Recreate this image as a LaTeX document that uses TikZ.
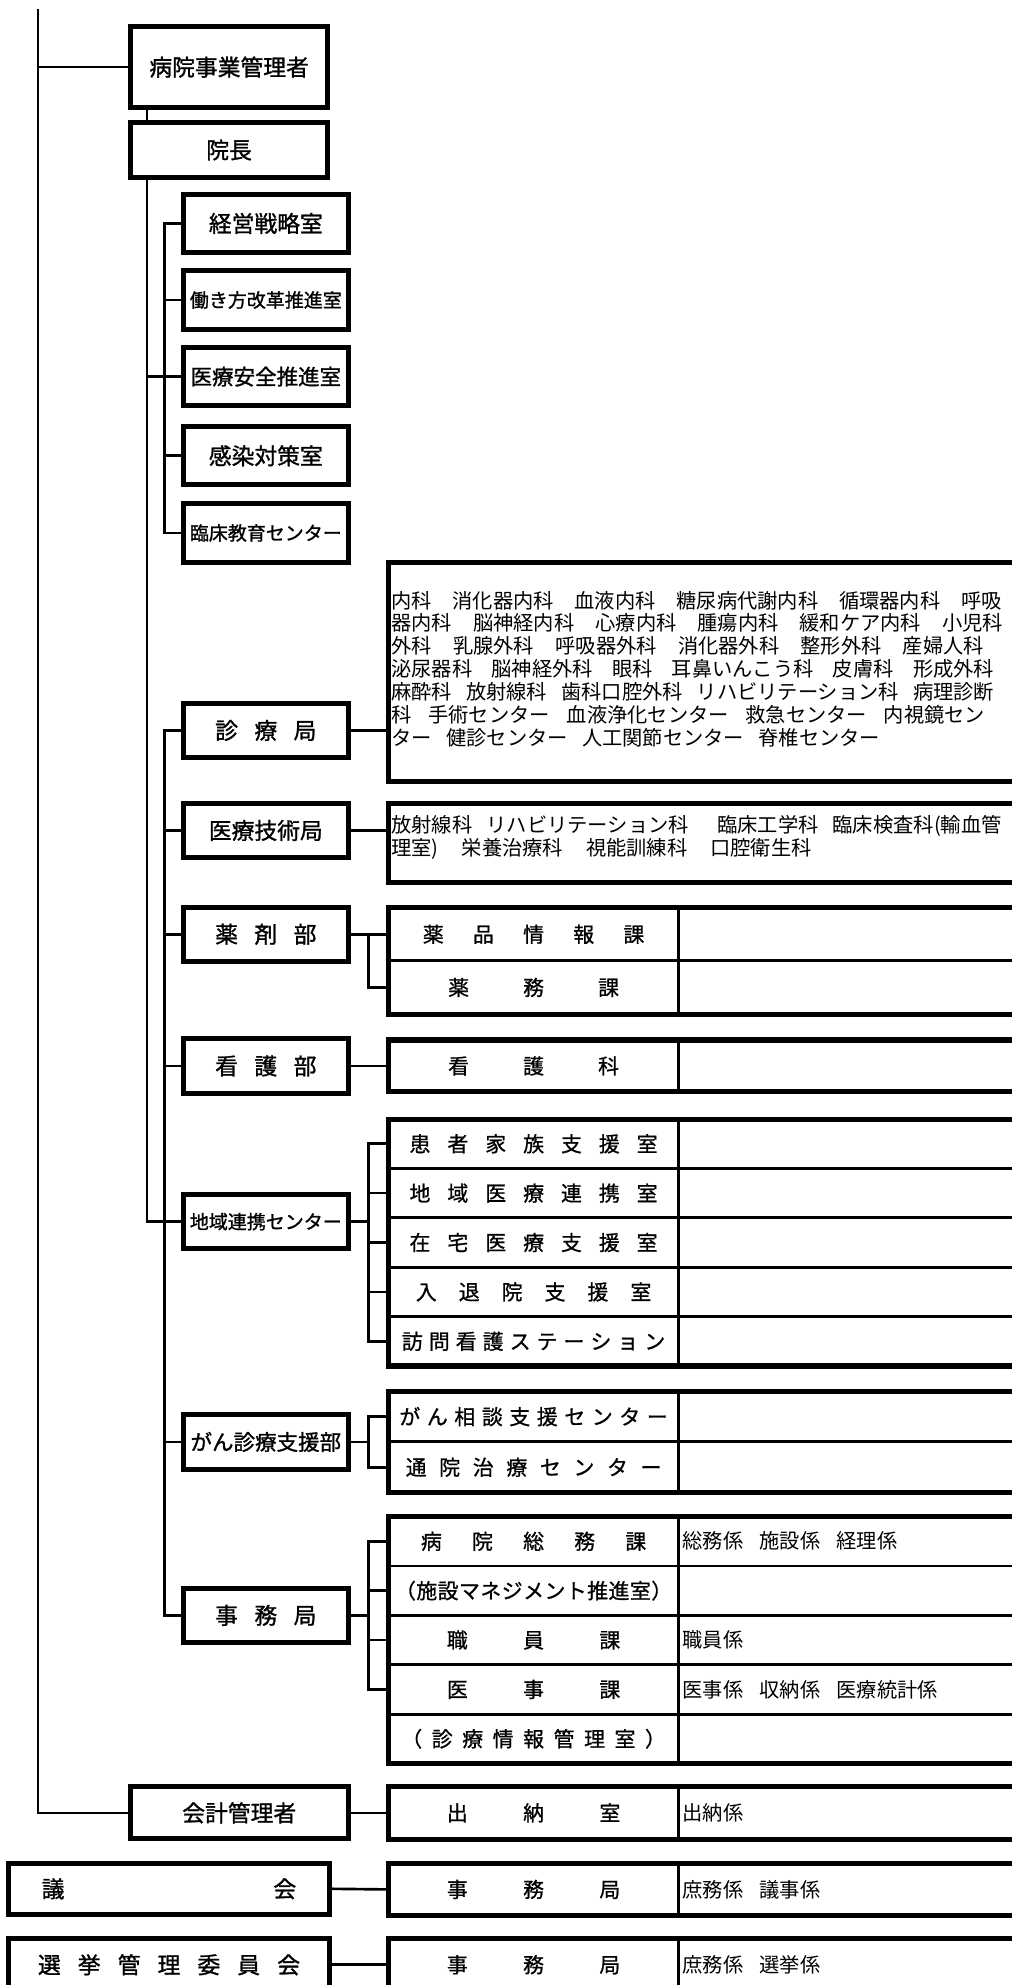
\documentclass[tikz,border=0pt]{standalone}
\usepackage{fontspec}
\setmainfont{Noto Sans CJK JP}
\newfontfamily\jpb{Noto Sans CJK JP}[FakeBold=1.2]
\newfontfamily\jpc{Noto Sans CJK JP}[FakeBold=0.9]
\newcommand\spr[2]{\makebox[#1pt]{#2}}
\begin{document}
\begin{tikzpicture}[x=1pt,y=-1pt,
  box/.style={draw,line width=4pt,inner sep=0pt,font=\jpb\fontsize{18}{20}\selectfont},
  sbox/.style={box,minimum width=130,minimum height=46},
  mbox/.style={box,minimum width=130,minimum height=43},
  fsmall/.style={font=\jpb\fontsize{15}{17}\selectfont},
  fmid/.style={font=\jpb\fontsize{17}{19}\selectfont},
  conn/.style={line width=2.1pt},
  touter/.style={line width=4pt},
  tinner/.style={line width=2.3pt},
  cellL/.style={inner sep=0pt,minimum width=229,minimum height=36,font=\jpc\fontsize{16.5}{18}\selectfont},
  cellR/.style={inner sep=0pt,anchor=west,font=\fontsize{16}{18}\selectfont},
  dtext/.style={inner sep=0pt,anchor=west,align=left,font=\fontsize{16}{18.1}\selectfont}]
\useasboundingbox (0,0) rectangle (799.4,1568);
\clip (0,0) rectangle (799.4,1568);

% ---------- left column boxes
\node[box,minimum width=156,minimum height=64] (jigyo) at (181,53) {病院事業管理者};
\node[box,minimum width=156,minimum height=43] (incho) at (181,118.5) {院長};
\node[sbox] (keiei) at (210,176.5) {経営戦略室};
\node[sbox,fsmall] (hataraki) at (210,237) {働き方改革推進室};
\node[sbox,fmid] (anzen) at (210,297.5) {医療安全推進室};
\node[sbox] (kansen) at (210,360) {感染対策室};
\node[sbox,fsmall] (rinsho) at (210,421) {臨床教育センター};
\node[mbox] (shinryo) at (210,577) {\spr{80}{診\hfill 療\hfill 局}};
\node[mbox] (iryogi) at (210,656) {医療技術局};
\node[mbox] (yakuzai) at (210,738) {\spr{80}{薬\hfill 剤\hfill 部}};
\node[mbox] (kango) at (210,842) {\spr{80}{看\hfill 護\hfill 部}};
\node[mbox,fsmall] (chiiki) at (210,965) {地域連携センター};
\node[mbox,fmid] (gan) at (210,1139) {がん診療支援部};
\node[mbox] (jimu) at (210,1276) {\spr{80}{事\hfill 務\hfill 局}};
\node[box,minimum width=172,minimum height=41] (kaikei) at (189,1432) {会計管理者};
\node[box,minimum width=253,minimum height=40] (gikai) at (133.5,1492) {\spr{201}{議\hfill 会}};
\node[box,minimum width=253,minimum height=42] (senkyo) at (133.5,1552) {\spr{207}{選\hfill 挙\hfill 管\hfill 理\hfill 委\hfill 員\hfill 会}};

% ---------- tables (outer frames open to the right)
\draw[touter] (830,444) -- (307,444) -- (307,617) -- (830,617);
\draw[touter] (830,635) -- (307,635) -- (307,697) -- (830,697);
\draw[touter] (830,717) -- (307,717) -- (307,801) -- (830,801);
\draw[tinner] (307,759) -- (830,759) (536,717) -- (536,801);
\draw[touter] (830,821.5) -- (307,821.5) -- (307,862.5) -- (830,862.5);
\draw[tinner] (536,821.5) -- (536,862.5);
\draw[touter] (830,884) -- (307,884) -- (307,1079) -- (830,1079);
\draw[tinner] (307,923) -- (830,923) (307,962) -- (830,962) (307,1001) -- (830,1001) (307,1040) -- (830,1040) (536,884) -- (536,1079);
\draw[touter] (830,1099) -- (307,1099) -- (307,1179) -- (830,1179);
\draw[tinner] (307,1139) -- (830,1139) (536,1099) -- (536,1179);
\draw[touter] (830,1198) -- (307,1198) -- (307,1393) -- (830,1393);
\draw[tinner] (307,1237) -- (830,1237) (307,1276) -- (830,1276) (307,1315) -- (830,1315) (307,1354) -- (830,1354) (536,1198) -- (536,1393);
\draw[touter] (830,1411) -- (307,1411) -- (307,1453) -- (830,1453);
\draw[tinner] (536,1411) -- (536,1453);
\draw[touter] (830,1472) -- (307,1472) -- (307,1513) -- (830,1513);
\draw[tinner] (536,1472) -- (536,1513);
\draw[touter] (830,1531) -- (307,1531) -- (307,1590);
\draw[tinner] (536,1531) -- (536,1590);

% ---------- detail texts
\node[dtext] (shinryoD) at (309,528.5) {%
\makebox[482pt][l]{内科\hfill 消化器内科\hfill 血液内科\hfill 糖尿病代謝内科\hfill 循環器内科\hfill 呼吸}\\
\makebox[483pt][l]{器内科\hfill 脳神経内科\hfill 心療内科\hfill 腫瘍内科\hfill 緩和ケア内科\hfill 小児科}\\
\makebox[468pt][l]{外科\hfill 乳腺外科\hfill 呼吸器外科\hfill 消化器外科\hfill 整形外科\hfill 産婦人科}\\
\makebox[476pt][l]{泌尿器科\hfill 脳神経外科\hfill 眼科\hfill 耳鼻いんこう科\hfill 皮膚科\hfill 形成外科}\\
\makebox[476pt][l]{麻酔科\hfill 放射線科\hfill 歯科口腔外科\hfill リハビリテーション科\hfill 病理診断}\\
\makebox[469pt][l]{科\hfill 手術センター\hfill 血液浄化センター\hfill 救急センター\hfill 内視鏡セン}\\
\makebox[386pt][l]{ター\hfill 健診センター\hfill 人工関節センター\hfill 脊椎センター}};
\node[dtext] (iryogiD) at (309,661.5) {%
\makebox[482pt][l]{放射線科\hfill リハビリテーション科\hfill\hfill 臨床工学科\hfill 臨床検査科(輸血管}\\
\makebox[332pt][l]{理室)\hfill 栄養治療科\hfill 視能訓練科\hfill 口腔衛生科}};

% ---------- table cells
\node[cellL] (yakuhin) at (421.5,738) {\spr{175}{薬\hfill 品\hfill 情\hfill 報\hfill 課}};
\node[cellL] (yakumu) at (421.5,780) {\spr{135}{薬\hfill 務\hfill 課}};
\node[cellL] (kangoka) at (421.5,842) {\spr{135}{看\hfill 護\hfill 科}};
\node[cellL] (kanja) at (421.5,903.5) {\spr{196}{患\hfill 者\hfill 家\hfill 族\hfill 支\hfill 援\hfill 室}};
\node[cellL] (renkei) at (421.5,942.5) {\spr{196}{地\hfill 域\hfill 医\hfill 療\hfill 連\hfill 携\hfill 室}};
\node[cellL] (zaitaku) at (421.5,981.5) {\spr{196}{在\hfill 宅\hfill 医\hfill 療\hfill 支\hfill 援\hfill 室}};
\node[cellL] (nyutai) at (421.5,1020.5) {\spr{186}{入\hfill 退\hfill 院\hfill 支\hfill 援\hfill 室}};
\node[cellL] (houmon) at (421.5,1059.5) {\spr{208}{訪\hfill 問\hfill 看\hfill 護\hfill ス\hfill テ\hfill ー\hfill シ\hfill ョ\hfill ン}};
\node[cellL] (gansodan) at (421.5,1119) {\spr{212}{が\hfill ん\hfill 相\hfill 談\hfill 支\hfill 援\hfill セ\hfill ン\hfill タ\hfill ー}};
\node[cellL] (tsuin) at (421.5,1159) {\spr{202}{通\hfill 院\hfill 治\hfill 療\hfill セ\hfill ン\hfill タ\hfill ー}};
\node[cellL] (somu) at (421.5,1217.5) {\spr{178}{病\hfill 院\hfill 総\hfill 務\hfill 課}};
\node[cellL] (shisetsu) at (421.5,1256.5) {\spr{219}{（\hfill 施\hfill 設\hfill マ\hfill ネ\hfill ジ\hfill メ\hfill ン\hfill ト\hfill 推\hfill 進\hfill 室\hfill ）}};
\node[cellL] (shokuin) at (421.5,1295.5) {\spr{137}{職\hfill 員\hfill 課}};
\node[cellL] (iji) at (421.5,1334.5) {\spr{137}{医\hfill 事\hfill 課}};
\node[cellL] (joho) at (421.5,1373.5) {\spr{209}{（\hfill 診\hfill 療\hfill 情\hfill 報\hfill 管\hfill 理\hfill 室\hfill ）}};
\node[cellL] (suito) at (421.5,1432) {\spr{137}{出\hfill 納\hfill 室}};
\node[cellL] (gjimu) at (421.5,1492.5) {\spr{137}{事\hfill 務\hfill 局}};
\node[cellL] (sjimu) at (421.5,1552) {\spr{137}{事\hfill 務\hfill 局}};

\node[cellR] (somuR) at (539,1217.5) {総務係\hspace{0.8em}施設係\hspace{0.8em}経理係};
\node[cellR] (shokuinR) at (539,1295.5) {職員係};
\node[cellR] (ijiR) at (539,1334.5) {医事係\hspace{0.8em}収納係\hspace{0.8em}医療統計係};
\node[cellR] (suitoR) at (539,1432) {出納係};
\node[cellR] (gjimuR) at (539,1492.5) {庶務係\hspace{0.8em}議事係};
\node[cellR] (sjimuR) at (539,1552) {庶務係\hspace{0.8em}選挙係};

% ---------- connectors, left side
\coordinate (ol) at (30,7);
\coordinate (tr) at (116,0);
\coordinate (s1) at (130,0);
\coordinate (bx) at (291,0);
\draw[conn] (ol) |- (kaikei.west);
\draw[conn] (ol |- jigyo.west) -- (jigyo.west);
\draw[conn] (tr |- jigyo.south) -- (tr |- incho.north);
\draw[conn] (tr |- incho.south) |- (chiiki.west);
\draw[conn] (tr |- anzen.west) -- (anzen.west);
\draw[conn] (keiei.west) -| (s1 |- rinsho.west) -- (rinsho.west);
\draw[conn] (s1 |- hataraki.west) -- (hataraki.west);
\draw[conn] (s1 |- kansen.west) -- (kansen.west);
\draw[conn] (shinryo.west) -| (s1 |- jimu.west) -- (jimu.west);
\draw[conn] (s1 |- iryogi.west) -- (iryogi.west);
\draw[conn] (s1 |- yakuzai.west) -- (yakuzai.west);
\draw[conn] (s1 |- kango.west) -- (kango.west);
\draw[conn] (s1 |- gan.west) -- (gan.west);

% ---------- connectors, right side
\draw[conn] (shinryo.east) -- (shinryo.east -| shinryoD.west);
\draw[conn] (iryogi.east) -- (iryogi.east -| iryogiD.west);
\draw[conn] (yakuzai.east) -- (yakuhin.west);
\draw[conn] (bx |- yakuhin.west) |- (yakumu.west);
\draw[conn] (kango.east) -- (kangoka.west);
\draw[conn] (chiiki.east) -- (bx |- chiiki.east);
\draw[conn] (kanja.west) -| (bx |- houmon.west) -- (houmon.west);
\draw[conn] (bx |- renkei.west) -- (renkei.west);
\draw[conn] (bx |- zaitaku.west) -- (zaitaku.west);
\draw[conn] (bx |- nyutai.west) -- (nyutai.west);
\draw[conn] (gan.east) -- (bx |- gan.east);
\draw[conn] (gansodan.west) -| (bx |- tsuin.west) -- (tsuin.west);
\draw[conn] (jimu.east) -- (bx |- jimu.east);
\draw[conn] (somu.west) -| (bx |- iji.west) -- (iji.west);
\draw[conn] (bx |- shisetsu.west) -- (shisetsu.west);
\draw[conn] (bx |- shokuin.west) -- (shokuin.west);
\draw[conn] (kaikei.east) -- (suito.west);
\draw[conn] (gikai.east) -- (gjimu.west);
\draw[conn] (senkyo.east) -- (sjimu.west);
\end{tikzpicture}
\end{document}
